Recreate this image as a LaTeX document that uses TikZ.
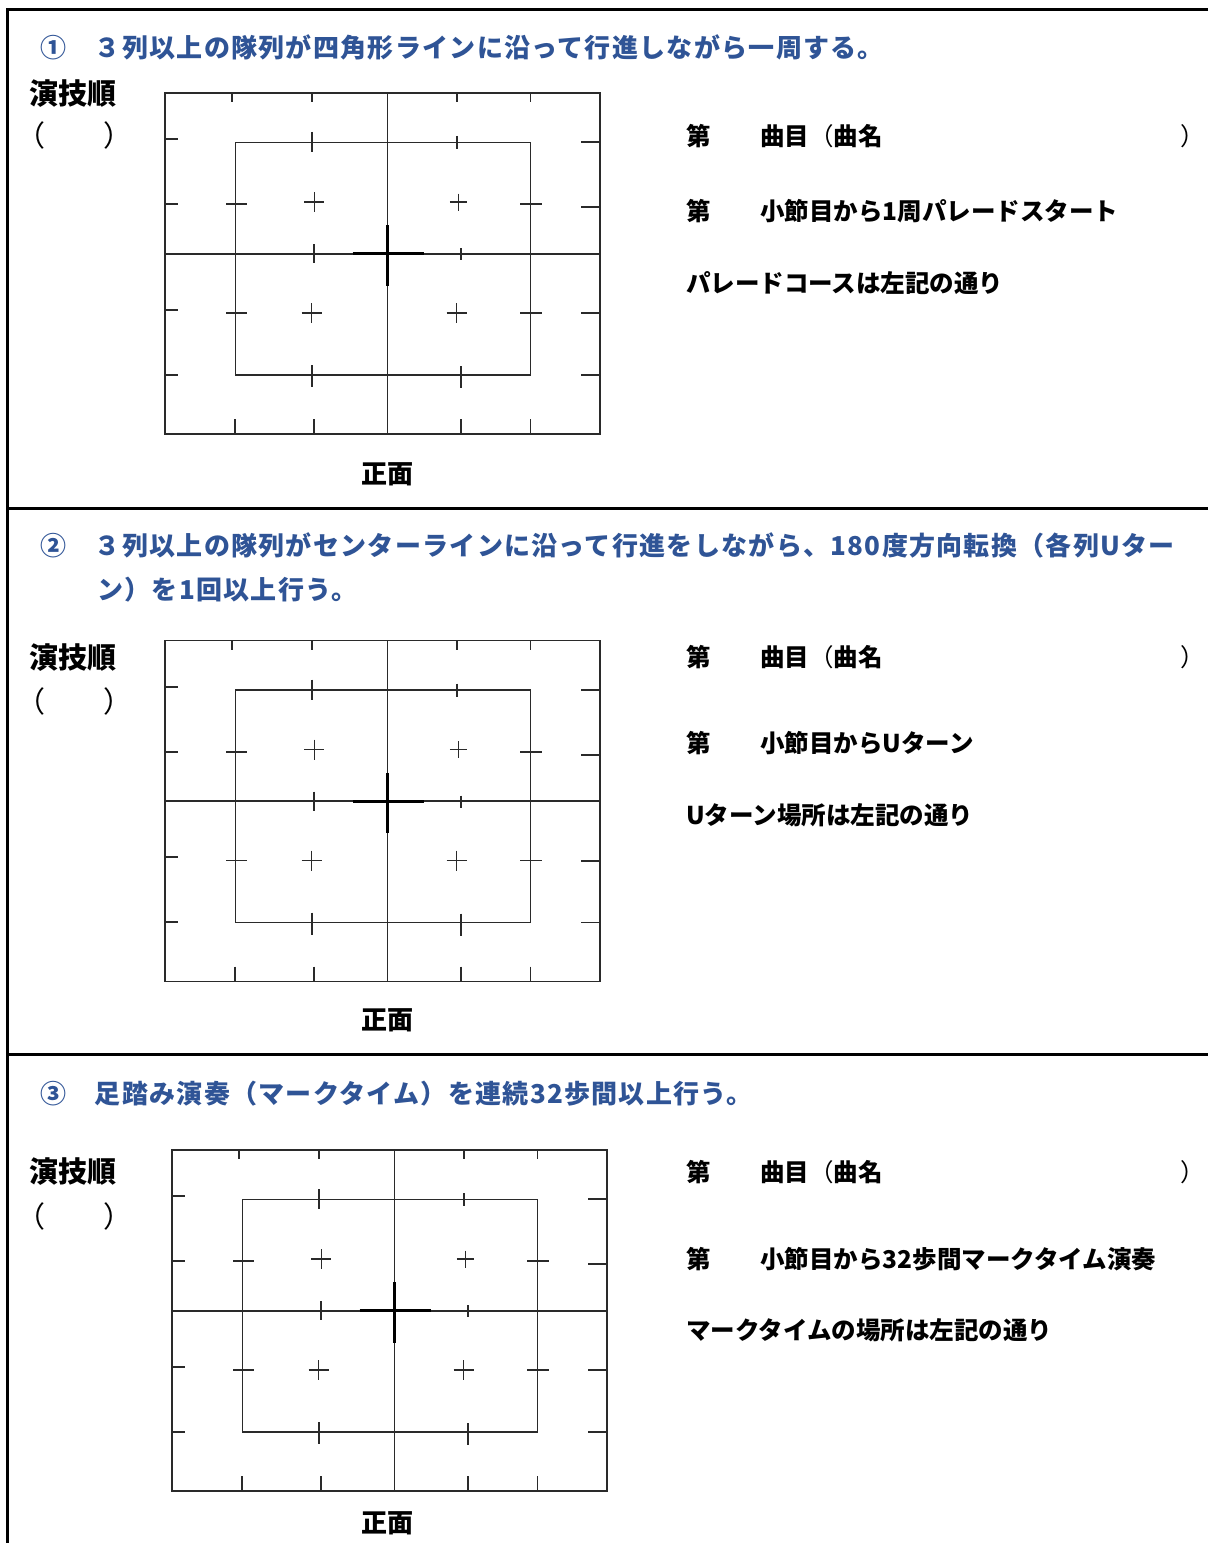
\documentclass[tikz,border=0pt]{standalone}
\usepackage{fontspec}
\setmainfont{Noto Sans CJK JP}
\newfontfamily\ttlfont{Noto Sans CJK JP}[LetterSpace=5.0]
\definecolor{ttl}{HTML}{2F5496}
\definecolor{fieldline}{HTML}{2A2A2A}
\tikzset{
  fl/.style={line width=1.8bp, draw=fieldline},
  crossfine/.style={line width=1.5bp, draw=fieldline},
  centercross/.style={line width=3bp, draw=black},
  frameline/.style={line width=3bp, draw=black},
  ttltext/.style={anchor=base west, inner sep=0pt, text=ttl, font=\ttlfont\bfseries\fontsize{26bp}{30bp}\selectfont},
  ordtext/.style={anchor=base west, inner sep=0pt, font=\bfseries\fontsize{29bp}{34bp}\selectfont},
  partext/.style={anchor=base west, inner sep=0pt, font=\fontsize{29bp}{34bp}\selectfont},
  rtext/.style={anchor=base west, inner sep=0pt, font=\bfseries\fontsize{24.5bp}{30bp}\selectfont},
  rpar/.style={anchor=base west, inner sep=0pt, font=\fontsize{24.5bp}{30bp}\selectfont},
  fronttext/.style={anchor=base west, inner sep=0pt, font=\bfseries\fontsize{26bp}{30bp}\selectfont},
}
\newcommand\fieldat[1]{%
\begin{scope}[shift={#1}]
\draw[fl] (0,0) rectangle (435,341);
\draw[fl] (70.5,49.5) rectangle (365.5,282);
\draw[fl] (222.5,0) -- (222.5,341);
\draw[fl] (0,160.7) -- (435,160.7);
\draw[centercross] (187.5,160.7) -- (259,160.7) (222.5,132.3) -- (222.5,192.7);
\foreach \xx in {67,146.7,292,365.5} \draw[fl] (\xx,0) -- (\xx,9);
\foreach \xx in {70,149,295.7,365.5} \draw[fl] (\xx,326) -- (\xx,341);
\foreach \yy in {46.3,111.3,216.7,281.7} \draw[fl] (0,\yy) -- (13,\yy);
\foreach \yy in {49.3,114.3,220.3,282} \draw[fl] (416,\yy) -- (435,\yy);
\draw[fl] (146.7,39) -- (146.7,59) (292,43) -- (292,56);
\draw[fl] (61,111.3) -- (82,111.3) (355,111.3) -- (377,111.3) (61,220) -- (82,220) (355,220) -- (377,220);
\draw[fl] (146.7,272) -- (146.7,294) (295.7,273) -- (295.7,295);
\draw[fl] (149.3,151) -- (149.3,170) (295.7,155) -- (295.7,167);
\foreach \px/\py/\s in {149.3/109/10, 293.3/109/8.5, 146.7/220/10, 291.7/220/10}
  \draw[crossfine] (\px-\s,\py) -- (\px+\s,\py) (\px,\py-\s) -- (\px,\py+\s);
\end{scope}}
\begin{document}
\begin{tikzpicture}[x=1bp,y=-1bp]
\useasboundingbox (0,0) rectangle (1208,1543);
\fill[white] (0,0) rectangle (1208,1543);
% frame
\draw[frameline] (1208,9.5) -- (7.5,9.5) -- (7.5,1543);
\draw[frameline] (7.5,508) -- (1208,508);
\draw[frameline] (7.5,1054) -- (1208,1054);

% ---------- section 1
\node[ttltext] (t1) at (40,58) {①　３列以上の隊列が四角形ラインに沿って行進しながら一周する。};
\node[ordtext] (o1) at (29,104.5) {演技順};
\node[partext] (p1) at (16,146.5) {（　　）};
\fieldat{(165,93)}
\node[fronttext] (f1) at (361,483.5) {正面};
\node[rtext] (a1) at (686,146) {第};
\node[rtext] (b1) at (760,146) {曲目\textmd{（}曲名};
\node[rpar] (c1) at (1180,146) {）};
\node[rtext] (d1) at (686,220) {第};
\node[rtext] (e1) at (760,220) {小節目から1周パレードスタート};
\node[rtext] (g1) at (686,292) {パレードコースは左記の通り};

% ---------- section 2
\node[ttltext] (t2) at (40,555) {②　３列以上の隊列がセンターラインに沿って行進をしながら、180度方向転換（各列Uター};
\node[ttltext] (t2b) at (97,599) {ン）を1回以上行う。};
\node[ordtext] (o2) at (29,668.5) {演技順};
\node[partext] (p2) at (16,712.5) {（　　）};
\fieldat{(165,640.5)}
\node[fronttext] (f2) at (361,1029.5) {正面};
\node[rtext] (a2) at (686,666) {第};
\node[rtext] (b2) at (760,666) {曲目\textmd{（}曲名};
\node[rpar] (c2) at (1180,666) {）};
\node[rtext] (d2) at (686,752) {第};
\node[rtext] (e2) at (760,752) {小節目からUターン};
\node[rtext] (g2) at (686,824) {Uターン場所は左記の通り};

% ---------- section 3
\node[ttltext] (t3) at (40,1103) {③　足踏み演奏（マークタイム）を連続32歩間以上行う。};
\node[ordtext] (o3) at (29,1182.5) {演技順};
\node[partext] (p3) at (16,1227.5) {（　　）};
\fieldat{(172,1150)}
\node[fronttext] (f3) at (361,1532.5) {正面};
\node[rtext] (a3) at (686,1181) {第};
\node[rtext] (b3) at (760,1181) {曲目\textmd{（}曲名};
\node[rpar] (c3) at (1180,1181) {）};
\node[rtext] (d3) at (686,1268) {第};
\node[rtext] (e3) at (760,1268) {小節目から32歩間マークタイム演奏};
\node[rtext] (g3) at (686,1339) {マークタイムの場所は左記の通り};
\end{tikzpicture}
\end{document}
